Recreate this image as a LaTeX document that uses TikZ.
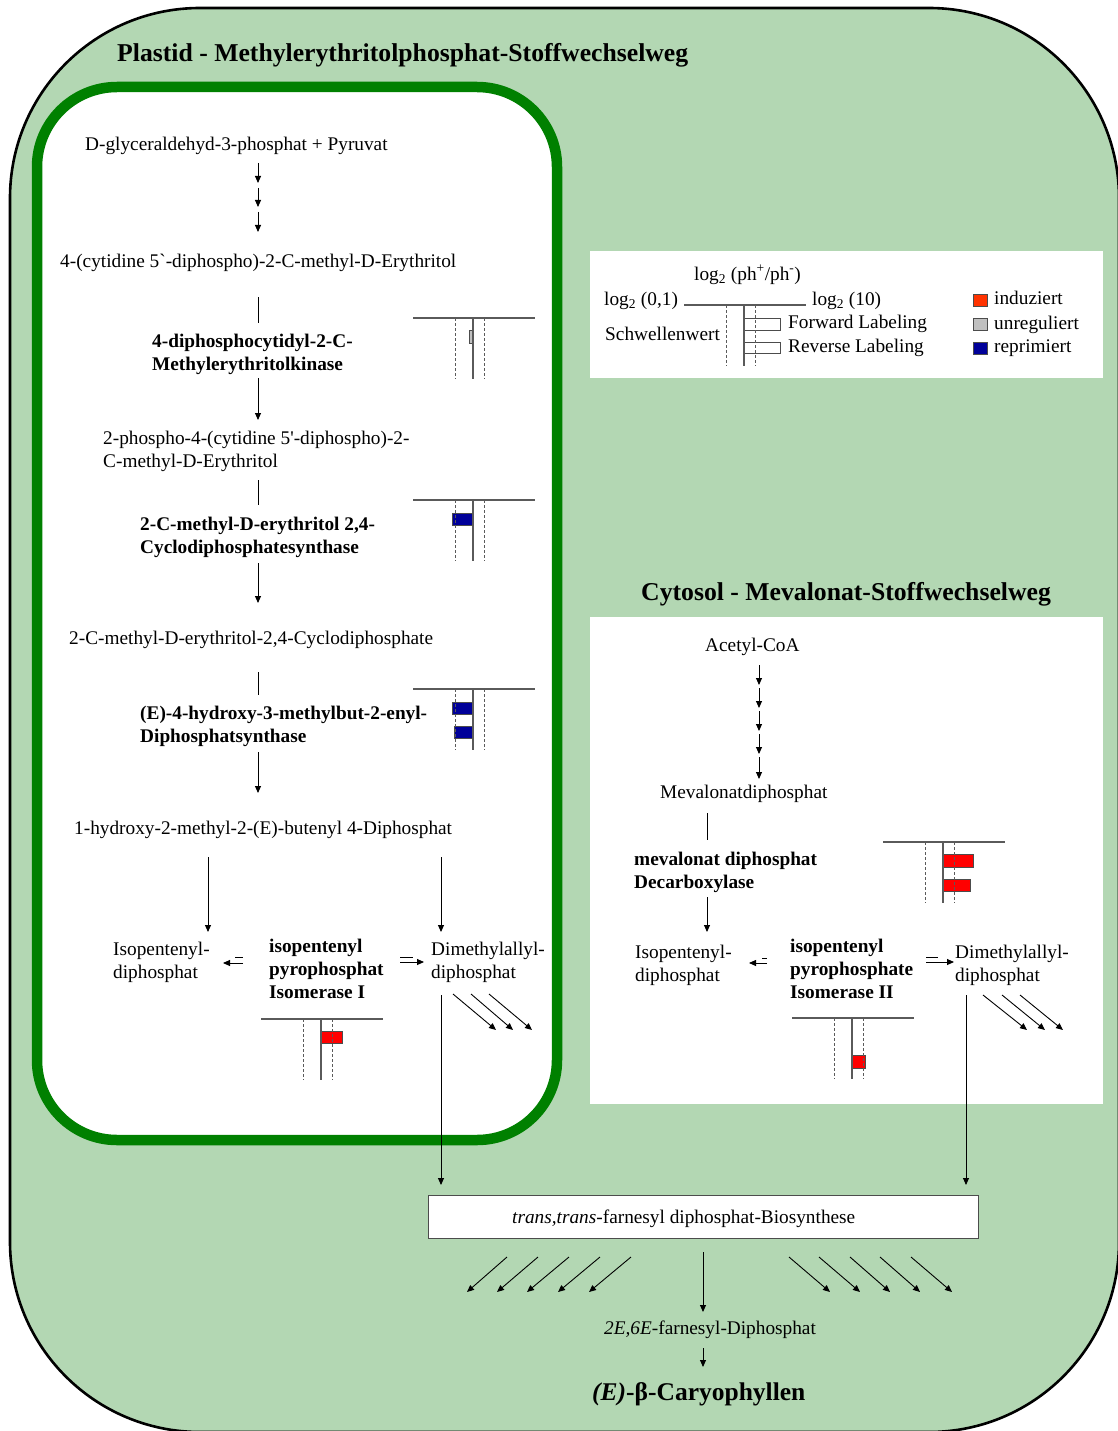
\documentclass[tikz,border=0pt]{standalone}
\usepackage{fontspec}
\setmainfont{Liberation Serif}
\newfontfamily\plainserif{Liberation Serif}[Ligatures=TeXOff]
\usetikzlibrary{arrows.meta}

\definecolor{cellgreen}{RGB}{179,215,179}
\definecolor{plastidgreen}{RGB}{0,128,0}
\definecolor{upred}{RGB}{255,0,0}
\definecolor{legendred}{RGB}{255,51,0}
\definecolor{flatgrey}{RGB}{192,192,192}
\definecolor{downblue}{RGB}{0,0,153}
\definecolor{axisgrey}{RGB}{90,90,90}

\tikzset{
  txt/.style={inner sep=0pt, anchor=base west, font=\fontsize{19.3}{23}\selectfont},
  mtxt/.style={inner sep=0pt, anchor=north west, align=left, font=\fontsize{19.3}{23}\selectfont},
  bmtxt/.style={mtxt, font=\fontsize{19.3}{23}\selectfont\bfseries},
  head/.style={inner sep=0pt, anchor=base west, font=\fontsize{25.7}{30}\selectfont\bfseries},
  arr/.style={draw=black, line width=0.9pt, -{Triangle[length=7pt,width=6pt]}},
  link/.style={draw=black, line width=0.9pt},
  axisline/.style={draw=axisgrey, line width=1.1pt},
  thresh/.style={draw=axisgrey, line width=0.9pt, dash pattern=on 3pt off 2pt},
  bar/.style={draw=black!70, line width=0.6pt},
  swatch/.style={draw=black!70, line width=0.6pt},
  regaxis/.pic={
    \draw[axisline] (-60,0) -- (62,0);
    \draw[axisline] (0,0) -- (0,61);
    \draw[thresh] (-18,0) -- (-18,61);
    \draw[thresh] (11,0) -- (11,61);
  },
}

\begin{document}
\begin{tikzpicture}[x=1pt,y=-1pt]
\useasboundingbox (0,0) rectangle (1118,1431);

% cell compartment
\begin{scope}
  \clip (0,0) rectangle (1118,1431);
  \draw[fill=cellgreen, draw=black, line width=2.6pt, rounded corners=190pt] (10,8) rectangle (1119,1432);
\end{scope}

% plastid
\draw[draw=plastidgreen, line width=10.5pt, fill=white, rounded corners=80pt] (37,87) rectangle (557,1140);
\node[head] (plastidtitle) at (117,62) {Plastid - Methylerythritolphosphat-Stoffwechselweg};

% legend and cytosol panels
\fill[white] (590,251) rectangle (1103,378);
\fill[white] (590,617) rectangle (1103,1104);
\node[head] (cytotitle) at (641,600) {Cytosol - Mevalonat-Stoffwechselweg};

% MEP pathway
\node[txt] (gap) at (85,151) {D-glyceraldehyd-3-phosphat + Pyruvat};
\node[txt] (cdpme) at (60,268) {4-(cytidine 5{\plainserif`}-diphospho)-2-C-methyl-D-Erythritol};
\node[bmtxt] (ispe) at (152,334) {4-diphosphocytidyl-2-C-\\Methylerythritolkinase};
\node[mtxt] (cdpmep) at (103,431) {2-phospho-4-(cytidine 5{\plainserif'}-diphospho)-2-\\C-methyl-D-Erythritol};
\node[bmtxt] (ispf) at (140,517) {2-C-methyl-D-erythritol 2,4-\\Cyclodiphosphatesynthase};
\node[txt] (mecpp) at (69,644) {2-C-methyl-D-erythritol-2,4-Cyclodiphosphate};
\node[bmtxt] (ispg) at (140,706) {(E)-4-hydroxy-3-methylbut-2-enyl-\\Diphosphatsynthase};
\node[txt] (hmbpp) at (74,834) {1-hydroxy-2-methyl-2-(E)-butenyl 4-Diphosphat};
\node[mtxt] (ipp1) at (113,942) {Isopentenyl-\\diphosphat};
\node[bmtxt] (idi1) at (269,939) {isopentenyl\\pyrophosphat\\Isomerase I};
\node[mtxt] (dmapp1) at (431,942) {Dimethylallyl-\\diphosphat};

% MVA pathway
\node[txt] (acoa) at (705,651) {Acetyl-CoA};
\node[txt] (mvpp) at (660,798) {Mevalonatdiphosphat};
\node[bmtxt] (mvd) at (634,852) {mevalonat diphosphat\\Decarboxylase};
\node[mtxt] (ipp2) at (635,945) {Isopentenyl-\\diphosphat};
\node[bmtxt] (idi2) at (790,939) {isopentenyl\\pyrophosphate\\Isomerase II};
\node[mtxt] (dmapp2) at (955,945) {Dimethylallyl-\\diphosphat};

% FPP synthesis and product
\node[draw=black!70, line width=0.8pt, fill=white, minimum width=550pt, minimum height=43pt, inner sep=0pt] (fppbox) at (703,1216.5) {};
\node[txt] (fpptext) at (512,1223) {\textit{trans,trans}-farnesyl diphosphat-Biosynthese};
\node[txt] (fpp) at (604,1334) {\textit{2E,6E}-farnesyl-Diphosphat};
\node[txt, font=\fontsize{25.5}{30}\selectfont\bfseries] (caryo) at (592,1400) {\textit{(E)}-β-Caryophyllen};

% arrows
\foreach \n/\xa/\ya/\xb/\yb in {
  m1/258/163/258/183, m2/258/188/258/207, m3/258/212/258/232,
  m4/258/378/258/420, m5/258/563/258/603, m6/258/752/258/793,
  m7/208/857/208/932, m8/441/857/441/932, m9/441/995/441/1185,
  c1/759/665/759/685, c2/759/688/759/708, c3/759/711/759/731,
  c4/759/734/759/754, c5/759/757/759/779,
  c6/707/897/707/932, c7/966/995/966/1185,
  e1/243/963/223/963, e2/400/962/424/962,
  e3/767/963/749/963, e4/926/962/954/962,
  d1/453/994/496/1030, d2/471/994/513/1030, d3/489/994/532/1030,
  d4/983/995/1027/1030, d5/1002/995/1045/1030, d6/1020/995/1063/1030,
  l1/507/1257/467/1292, l2/538/1257/497/1292, l3/569/1257/527/1292,
  l4/600/1257/558/1292, l5/631/1257/589/1292,
  r1/789/1257/830/1292, r2/819/1257/860/1292, r3/850/1257/890/1292,
  r4/880/1257/920/1292, r5/911/1257/952/1292,
  f1/703/1252/703/1312, f2/703/1348/703/1367}{
  \coordinate (\n-a) at (\xa,\ya);
  \coordinate (\n-b) at (\xb,\yb);
  \draw[arr] (\n-a) -- (\n-b);
}

% plain connectors
\foreach \n/\xa/\ya/\xb/\yb in {
  k1/258/297/258/323, k2/258/480/258/505, k3/258/672/258/695, k4/707/813/707/840,
  e1b/235/957/243/957, e2b/400/957/413/957, e3b/762/958/767/958, e4b/926/957/938/957}{
  \coordinate (\n-a) at (\xa,\ya);
  \coordinate (\n-b) at (\xb,\yb);
  \draw[link] (\n-a) -- (\n-b);
}

% regulation bars
\draw[bar, fill=flatgrey] (469,330) rectangle (473,343);
\draw[bar, fill=downblue] (452,513) rectangle (473,525);
\draw[bar, fill=downblue] (452,702) rectangle (473,714);
\draw[bar, fill=downblue] (454,726) rectangle (473,738);
\draw[bar, fill=upred] (321,1031) rectangle (342,1043);
\draw[bar, fill=upred] (943,854) rectangle (973,867);
\draw[bar, fill=upred] (943,879) rectangle (970,891);
\draw[bar, fill=upred] (852,1055) rectangle (865,1068);
\draw[bar, fill=white] (744,318) rectangle (780,330);
\draw[bar, fill=white] (744,342) rectangle (780,353);

% regulation axes
\pic at (473,318) {regaxis};
\pic at (473,500) {regaxis};
\pic at (473,689) {regaxis};
\pic at (321,1019) {regaxis};
\pic at (943,842) {regaxis};
\pic at (852,1018) {regaxis};
\pic at (744,305) {regaxis};

% legend
\node[txt] (lgratio) at (694,280) {log\textsubscript{2} (ph\textsuperscript{+}/ph\textsuperscript{-})};
\node[txt] (lglow) at (604,305) {log\textsubscript{2} (0,1)};
\node[txt] (lghigh) at (812,305) {log\textsubscript{2} (10)};
\node[txt] (lgthr) at (605,340) {Schwellenwert};
\node[txt] (lgfwd) at (788,328) {Forward Labeling};
\node[txt] (lgrev) at (788,352) {Reverse Labeling};
\draw[swatch, fill=legendred] (973,294) rectangle (987,306);
\draw[swatch, fill=flatgrey] (973,318) rectangle (987,330);
\draw[swatch, fill=downblue] (973,342) rectangle (987,354);
\node[txt] (lgup) at (994,304) {induziert};
\node[txt] (lgflat) at (994,329) {unreguliert};
\node[txt] (lgdown) at (994,352) {reprimiert};
\end{tikzpicture}
\end{document}
